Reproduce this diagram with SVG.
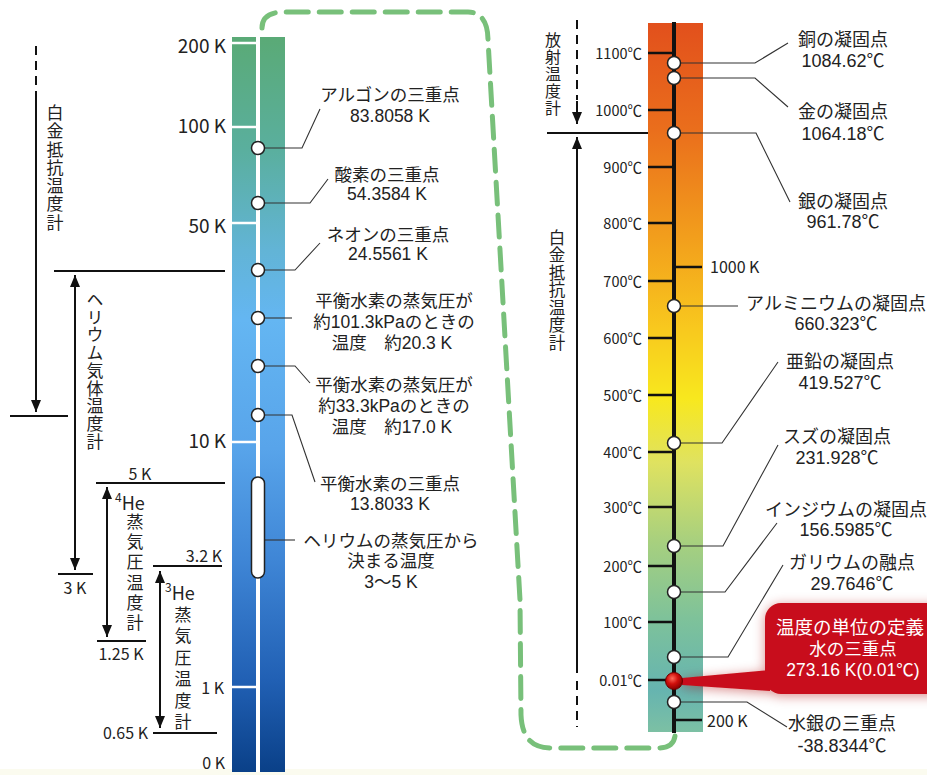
<svg xmlns="http://www.w3.org/2000/svg" width="927" height="775" viewBox="0 0 927 775">
<defs>
<style>
text{font-family:"Noto Sans CJK JP","Noto Sans",sans-serif;fill:#222}
.lbl,.rl,.wtx{font-family:"Liberation Sans","Noto Sans CJK JP",sans-serif}
.lbl{font-size:17.5px;text-anchor:middle}
.rl{font-size:18px;text-anchor:middle}
.kb{font-size:19px;text-anchor:end}
.ks{font-size:16px}
.deg{font-size:14.5px;text-anchor:end}
.vt{font-size:17px;writing-mode:vertical-rl;text-anchor:start}
.ld{fill:none;stroke:#333;stroke-width:1.1}
.ax{stroke:#111;stroke-width:2;fill:none}
.dash{stroke:#111;stroke-width:2;fill:none;stroke-dasharray:9 6}
.pt{fill:#fff;stroke:#222;stroke-width:1.5}
.wt{stroke:#fff;stroke-width:2.5}
.bt{stroke:#111;stroke-width:2.5}
.wtx{fill:#fff;text-anchor:middle}
</style>
<linearGradient id="gBlue" x1="0" y1="37" x2="0" y2="772" gradientUnits="userSpaceOnUse">
<stop offset="0" stop-color="#5aaa76"/>
<stop offset="0.154" stop-color="#5aaf9e"/>
<stop offset="0.29" stop-color="#62b4d6"/>
<stop offset="0.385" stop-color="#64b6f2"/>
<stop offset="0.56" stop-color="#58a4ea"/>
<stop offset="0.71" stop-color="#3f86d6"/>
<stop offset="0.875" stop-color="#2160b4"/>
<stop offset="1" stop-color="#0a4088"/>
</linearGradient>
<linearGradient id="gWarm" x1="0" y1="23" x2="0" y2="732" gradientUnits="userSpaceOnUse">
<stop offset="0" stop-color="#e2501c"/>
<stop offset="0.15" stop-color="#ea6e1c"/>
<stop offset="0.32" stop-color="#f3a41c"/>
<stop offset="0.43" stop-color="#f8c81e"/>
<stop offset="0.53" stop-color="#f8e81e"/>
<stop offset="0.62" stop-color="#dfe260"/>
<stop offset="0.73" stop-color="#a8d07e"/>
<stop offset="0.84" stop-color="#7ec29a"/>
<stop offset="0.94" stop-color="#66b4b0"/>
<stop offset="1" stop-color="#7cc0a4"/>
</linearGradient>
<radialGradient id="gRed" cx="0.4" cy="0.35" r="0.65">
<stop offset="0" stop-color="#ff6a5a"/>
<stop offset="0.5" stop-color="#d0100c"/>
<stop offset="1" stop-color="#8a0000"/>
</radialGradient>
<filter id="shadow" x="-20%" y="-30%" width="140%" height="160%">
<feDropShadow dx="0" dy="2" stdDeviation="6" flood-color="#a00" flood-opacity="0.45"/>
</filter>
<marker id="ah" viewBox="0 0 12 10" refX="12" refY="5" markerWidth="12" markerHeight="10" orient="auto-start-reverse" markerUnits="userSpaceOnUse">
<path d="M0,0 L12,5 L0,10 z" fill="#111"/>
</marker>
</defs>

<rect x="0" y="0" width="927" height="775" fill="#fff"/>
<rect x="0" y="769" width="927" height="6" fill="#fbfbef"/>

<!-- green dashed bracket -->
<path id="bracket" d="M262,28 C262,17 270,12 284,12 L468,12 C481,12 488,22 488,40 L520,600 L521,715 C522,738 532,748 552,748 L658,748 C668,748 674,744 675,736" fill="none" stroke="#78c07a" stroke-width="5" stroke-linecap="round" stroke-dasharray="22 11"/>

<!-- left scale bar -->
<g id="kelvin-scale">
<rect x="232" y="37" width="53" height="735" fill="url(#gBlue)"/>
<line x1="258" y1="37" x2="258" y2="772" stroke="#fff" stroke-width="4"/>
<line class="wt" x1="232" y1="43" x2="256" y2="43"/>
<line class="wt" x1="232" y1="127" x2="256" y2="127"/>
<line class="wt" x1="232" y1="223" x2="256" y2="223"/>
<line class="wt" x1="232" y1="442" x2="256" y2="442"/>
<line class="wt" x1="232" y1="687" x2="256" y2="687"/>
<text class="kb" x="226" y="53">200 K</text>
<text class="kb" x="226" y="133">100 K</text>
<text class="kb" x="226" y="233">50 K</text>
<text class="kb" x="226" y="448">10 K</text>
<text class="ks" x="224" y="694" text-anchor="end">1 K</text>
<text class="ks" x="225" y="769" text-anchor="end">0 K</text>
</g>

<!-- right scale bar -->
<g id="celsius-scale">
<rect x="648" y="23" width="55" height="709" fill="url(#gWarm)"/>
<line x1="674" y1="22" x2="674" y2="733" stroke="#111" stroke-width="4"/>
<line class="bt" x1="648" y1="53" x2="674" y2="53"/>
<line class="bt" x1="648" y1="110" x2="674" y2="110"/>
<line class="bt" x1="648" y1="167" x2="674" y2="167"/>
<line class="bt" x1="648" y1="223" x2="674" y2="223"/>
<line class="bt" x1="648" y1="281" x2="674" y2="281"/>
<line class="bt" x1="648" y1="338" x2="674" y2="338"/>
<line class="bt" x1="648" y1="395" x2="674" y2="395"/>
<line class="bt" x1="648" y1="452" x2="674" y2="452"/>
<line class="bt" x1="648" y1="507" x2="674" y2="507"/>
<line class="bt" x1="648" y1="566" x2="674" y2="566"/>
<line class="bt" x1="648" y1="622" x2="674" y2="622"/>
<line class="bt" x1="648" y1="680" x2="674" y2="680"/>
<line class="bt" x1="674" y1="267" x2="702" y2="267"/>
<line class="bt" x1="674" y1="720" x2="702" y2="720"/>
<text class="deg" x="642" y="59">1100℃</text>
<text class="deg" x="642" y="116">1000℃</text>
<text class="deg" x="642" y="173">900℃</text>
<text class="deg" x="642" y="229">800℃</text>
<text class="deg" x="642" y="287">700℃</text>
<text class="deg" x="642" y="344">600℃</text>
<text class="deg" x="642" y="401">500℃</text>
<text class="deg" x="642" y="458">400℃</text>
<text class="deg" x="642" y="513">300℃</text>
<text class="deg" x="642" y="572">200℃</text>
<text class="deg" x="642" y="628">100℃</text>
<text class="deg" x="642" y="686">0.01℃</text>
<text class="ks" x="710" y="273">1000 K</text>
<text class="ks" x="707" y="727">200 K</text>
</g>

<!-- range arrows and boundary lines -->
<g id="ranges">
<line class="dash" x1="36" y1="46" x2="36" y2="88"/>
<line class="ax" x1="36" y1="91" x2="36" y2="412" marker-end="url(#ah)"/>
<line class="ax" x1="10" y1="416" x2="68" y2="416"/>
<line class="ax" x1="54" y1="271" x2="225" y2="271"/>
<line class="ax" x1="75" y1="275" x2="75" y2="570" marker-start="url(#ah)" marker-end="url(#ah)"/>
<line class="ax" x1="58" y1="574" x2="93" y2="574"/>
<line class="ax" x1="96" y1="483" x2="225" y2="483"/>
<line class="ax" x1="107" y1="487" x2="107" y2="637" marker-start="url(#ah)" marker-end="url(#ah)"/>
<line class="ax" x1="97" y1="641" x2="146" y2="641"/>
<line class="ax" x1="153" y1="566" x2="222" y2="566"/>
<line class="ax" x1="160" y1="571" x2="160" y2="728" marker-start="url(#ah)" marker-end="url(#ah)"/>
<line class="ax" x1="153" y1="733" x2="217" y2="733"/>
<text class="ks" x="140" y="480" text-anchor="middle">5 K</text>
<text class="ks" x="222" y="562" text-anchor="end">3.2 K</text>
<text class="ks" x="75" y="594" text-anchor="middle">3 K</text>
<text class="ks" x="121" y="660" text-anchor="middle">1.25 K</text>
<text class="ks" x="148" y="739" text-anchor="end">0.65 K</text>

<line class="dash" x1="577" y1="20" x2="577" y2="100"/>
<line class="ax" x1="577" y1="101" x2="577" y2="124" marker-end="url(#ah)"/>
<line class="ax" x1="547" y1="133" x2="648" y2="133"/>
<line class="ax" x1="577" y1="673" x2="577" y2="137" marker-end="url(#ah)"/>
<line class="dash" x1="577" y1="681" x2="577" y2="727"/>
</g>

<g id="label-pt-left"><text class="vt" x="55" y="104" style="letter-spacing:1.3px">白金抵抗温度計</text></g>
<g id="label-he-gas"><text class="vt" x="95" y="291" style="letter-spacing:0.75px">ヘリウム気体温度計</text></g>
<g id="label-he4">
<text x="115" y="510" style="font-size:18px"><tspan dy="-8" style="font-size:12px">4</tspan><tspan dy="8">He</tspan></text>
<text class="vt" x="135" y="513" style="letter-spacing:3.2px">蒸気圧温度計</text>
</g>
<g id="label-he3">
<text x="165" y="600" style="font-size:18px"><tspan dy="-8" style="font-size:12px">3</tspan><tspan dy="8">He</tspan></text>
<text class="vt" x="183" y="606" style="letter-spacing:4.4px">蒸気圧温度計</text>
</g>
<g id="label-radiation"><text class="vt" x="553" y="32" style="font-size:16px;letter-spacing:1px">放射温度計</text></g>
<g id="label-pt-right"><text class="vt" x="557" y="229" style="font-size:16.5px;letter-spacing:1px">白金抵抗温度計</text></g>

<!-- leader lines -->
<g id="connectors">
<polyline class="ld" points="264,148 302,148 320,109"/>
<polyline class="ld" points="264,203 310,203 328,179"/>
<polyline class="ld" points="264,270 295,270 320,243"/>
<polyline class="ld" points="264,318 292,318"/>
<polyline class="ld" points="264,366 295,366 310,383"/>
<polyline class="ld" points="264,415 292,415 315,482"/>
<polyline class="ld" points="265,540 295,540"/>
<polyline class="ld" points="680,63 755,63 788,43"/>
<polyline class="ld" points="680,78 755,78 788,107"/>
<polyline class="ld" points="680,133 756,133 790,202"/>
<polyline class="ld" points="680,306 738,306"/>
<polyline class="ld" points="680,443 722,443 778,362"/>
<polyline class="ld" points="680,546 723,546 778,445"/>
<polyline class="ld" points="680,592 725,592 777,523"/>
<polyline class="ld" points="680,657 728,657 783,565"/>
<polyline class="ld" points="680,702 747,702 787,727"/>
</g>

<!-- fixed points, left -->
<g id="argon"><circle class="pt" cx="258" cy="148" r="6.5"/><text class="lbl"><tspan x="390" y="101">アルゴンの三重点</tspan><tspan x="390" y="122">83.8058 K</tspan></text></g>
<g id="oxygen"><circle class="pt" cx="258" cy="203" r="6.5"/><text class="lbl"><tspan x="387" y="181">酸素の三重点</tspan><tspan x="387" y="200">54.3584 K</tspan></text></g>
<g id="neon"><circle class="pt" cx="258" cy="270" r="6.5"/><text class="lbl"><tspan x="388" y="241">ネオンの三重点</tspan><tspan x="388" y="260">24.5561 K</tspan></text></g>
<g id="h2-101"><circle class="pt" cx="258" cy="318" r="6.5"/><text class="lbl"><tspan x="394" y="307">平衡水素の蒸気圧が</tspan><tspan x="394" y="328">約101.3kPaのときの</tspan><tspan x="392" y="349">温度　約20.3 K</tspan></text></g>
<g id="h2-33"><circle class="pt" cx="258" cy="366" r="6.5"/><text class="lbl"><tspan x="394" y="391">平衡水素の蒸気圧が</tspan><tspan x="394" y="412">約33.3kPaのときの</tspan><tspan x="392" y="433">温度　約17.0 K</tspan></text></g>
<g id="h2-triple"><circle class="pt" cx="258" cy="415" r="6.5"/><text class="lbl"><tspan x="390" y="490">平衡水素の三重点</tspan><tspan x="390" y="510">13.8033 K</tspan></text></g>
<g id="helium"><rect class="pt" x="251.5" y="477" width="13" height="101" rx="6.5"/><text class="lbl"><tspan x="391" y="547">ヘリウムの蒸気圧から</tspan><tspan x="391" y="567">決まる温度</tspan><tspan x="391" y="588">3～5 K</tspan></text></g>

<!-- fixed points, right -->
<g id="copper"><circle class="pt" cx="674" cy="63" r="6.5"/><text class="rl"><tspan x="843" y="46">銅の凝固点</tspan><tspan x="843" y="67">1084.62℃</tspan></text></g>
<g id="gold"><circle class="pt" cx="674" cy="78" r="6.5"/><text class="rl"><tspan x="843" y="118">金の凝固点</tspan><tspan x="843" y="140">1064.18℃</tspan></text></g>
<g id="silver"><circle class="pt" cx="674" cy="133" r="6.5"/><text class="rl"><tspan x="843" y="208">銀の凝固点</tspan><tspan x="843" y="228">961.78℃</tspan></text></g>
<g id="aluminium"><circle class="pt" cx="674" cy="306" r="6.5"/><text class="rl"><tspan x="836" y="310">アルミニウムの凝固点</tspan><tspan x="836" y="330">660.323℃</tspan></text></g>
<g id="zinc"><circle class="pt" cx="674" cy="443" r="6.5"/><text class="rl"><tspan x="840" y="368">亜鉛の凝固点</tspan><tspan x="840" y="389">419.527℃</tspan></text></g>
<g id="tin"><circle class="pt" cx="674" cy="546" r="6.5"/><text class="rl"><tspan x="837" y="443">スズの凝固点</tspan><tspan x="837" y="464">231.928℃</tspan></text></g>
<g id="indium"><circle class="pt" cx="674" cy="592" r="6.5"/><text class="rl"><tspan x="846" y="516">インジウムの凝固点</tspan><tspan x="846" y="536">156.5985℃</tspan></text></g>
<g id="gallium"><circle class="pt" cx="674" cy="657" r="6.5"/><text class="rl"><tspan x="852" y="569">ガリウムの融点</tspan><tspan x="852" y="590">29.7646℃</tspan></text></g>
<g id="mercury"><circle class="pt" cx="674" cy="702" r="6.5"/><text class="rl"><tspan x="842" y="730">水銀の三重点</tspan><tspan x="842" y="752">-38.8344℃</tspan></text></g>

<g id="water">
<g filter="url(#shadow)">
<rect x="765" y="603" width="185" height="91" rx="16" fill="#c8101a"/>
<polygon points="682,678 770,670 770,691 682,685" fill="#c8101a"/>
</g>
<circle cx="674" cy="681" r="8.5" fill="url(#gRed)" stroke="#6a0000" stroke-width="1"/>
<text class="wtx"><tspan x="850" y="634" style="font-size:18.5px">温度の単位の定義</tspan><tspan x="853" y="655" style="font-size:17.5px">水の三重点</tspan><tspan x="853" y="676" style="font-size:17.5px">273.16 K(0.01℃)</tspan></text>
</g>
</svg>
